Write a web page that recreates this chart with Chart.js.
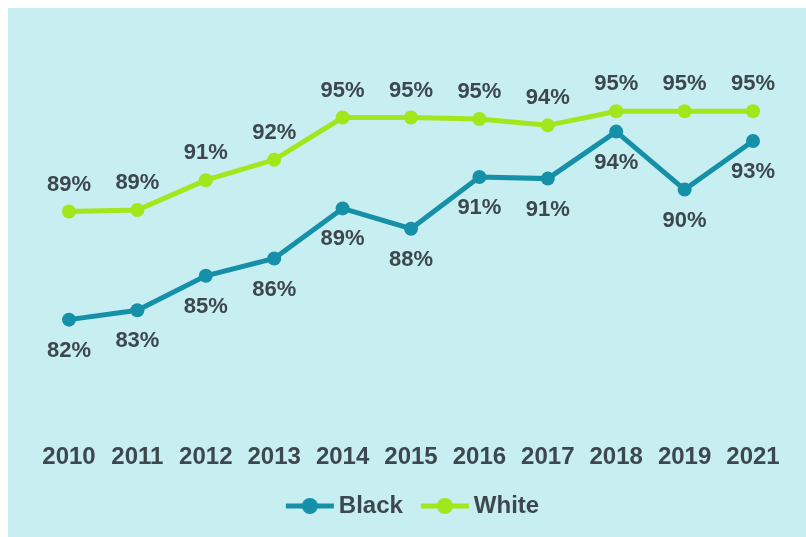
<!DOCTYPE html>
<html>
<head>
<meta charset="utf-8">
<script src="https://cdn.jsdelivr.net/npm/chart.js@4/dist/chart.umd.min.js"></script>
<style>
  html, body { margin: 0; padding: 0; background: #ffffff; }
  #wrap { position: relative; width: 806px; height: 537px; }
</style>
</head>
<body>
<div id="wrap"><canvas id="chart" width="806" height="537"></canvas></div>
<script>
// Survey years shown along the horizontal axis
const years = ['2010', '2011', '2012', '2013', '2014', '2015', '2016', '2017', '2018', '2019', '2021'];

// Share (%) for each group by year
const blackValues = [82.0, 82.6, 84.8, 85.9, 89.1, 87.8, 91.1, 91.0, 94.0, 90.3, 93.4];
const whiteValues = [88.9, 89.0, 90.9, 92.2, 94.9, 94.9, 94.8, 94.4, 95.3, 95.3, 95.3];

const seriesNames = ['Black', 'White'];
const TEAL = '#1590a8';
const LIME = '#a2e61c';
const TEXT = '#3d474e';
const FONT = "'Liberation Sans', Arial, sans-serif";

// Legend marker: a short line with a dot in the middle
function legendMarker(color) {
  const c = document.createElement('canvas');
  c.width = 50; c.height = 20;
  const g = c.getContext('2d');
  g.strokeStyle = color;
  g.lineWidth = 5;
  g.beginPath(); g.moveTo(1, 10); g.lineTo(49, 10); g.stroke();
  g.fillStyle = color;
  g.beginPath(); g.arc(25, 10, 8, 0, Math.PI * 2); g.fill();
  return c;
}

// Panel background with a thin white margin on the top/left
const panelBg = {
  id: 'panelBg',
  beforeDraw(chart) {
    const ctx = chart.ctx;
    ctx.save();
    ctx.fillStyle = '#ffffff';
    ctx.fillRect(0, 0, chart.width, chart.height);
    ctx.fillStyle = '#c7eef0';
    ctx.fillRect(8, 8, chart.width - 8, chart.height - 8);
    ctx.restore();
  }
};

// Nudge the legend row a little to the right of the plot's centre
const legendShift = {
  id: 'legendShift',
  afterLayout(chart) {
    if (chart.legend) {
      chart.legend.left += 5;
      chart.legend.right += 5;
    }
  }
};

// Percentage labels: above the White points, below the Black points
const pointLabels = {
  id: 'pointLabels',
  afterDatasetsDraw(chart) {
    const ctx = chart.ctx;
    ctx.save();
    ctx.font = 'bold 22px ' + FONT;
    ctx.fillStyle = TEXT;
    ctx.textAlign = 'center';
    ctx.textBaseline = 'middle';
    chart.data.datasets.forEach((ds, i) => {
      const meta = chart.getDatasetMeta(i);
      const dy = ds.label === 'White' ? -27 : 31;
      meta.data.forEach((pt, j) => {
        ctx.fillText(Math.round(ds.data[j]) + '%', pt.x, pt.y + dy);
      });
    });
    ctx.restore();
  }
};

new Chart(document.getElementById('chart'), {
  type: 'line',
  data: {
    labels: years,
    datasets: [
      {
        label: seriesNames[0],
        data: blackValues,
        borderColor: TEAL,
        backgroundColor: TEAL,
        borderWidth: 5,
        pointRadius: 7,
        pointHoverRadius: 7,
        pointBorderWidth: 0,
        tension: 0
      },
      {
        label: seriesNames[1],
        data: whiteValues,
        borderColor: LIME,
        backgroundColor: LIME,
        borderWidth: 5,
        pointRadius: 7,
        pointHoverRadius: 7,
        pointBorderWidth: 0,
        tension: 0
      }
    ]
  },
  options: {
    responsive: false,
    animation: false,
    events: [],
    layout: { padding: { left: 69, right: 53, top: 84.6, bottom: 9 } },
    scales: {
      x: {
        offset: false,
        grid: { display: false, drawTicks: false },
        border: { display: false },
        ticks: {
          color: TEXT,
          font: { family: FONT, size: 24, weight: 'bold', lineHeight: 1.0 },
          padding: 0,
          maxRotation: 0,
          autoSkip: false
        }
      },
      y: {
        display: false,
        min: 74,
        max: 97
      }
    },
    plugins: {
      tooltip: { enabled: false },
      legend: {
        position: 'bottom',
        labels: {
          color: TEXT,
          font: { family: FONT, size: 24, weight: 'bold' },
          usePointStyle: true,
          pointStyleWidth: 34,
          padding: 25,
          generateLabels(chart) {
            return chart.data.datasets.map((ds, i) => ({
              text: ds.label,
              fillStyle: ds.borderColor,
              strokeStyle: ds.borderColor,
              fontColor: TEXT,
              lineWidth: 0,
              pointStyle: legendMarker(ds.borderColor),
              hidden: false,
              datasetIndex: i
            }));
          }
        }
      }
    }
  },
  plugins: [panelBg, legendShift, pointLabels]
});
</script>
</body>
</html>
